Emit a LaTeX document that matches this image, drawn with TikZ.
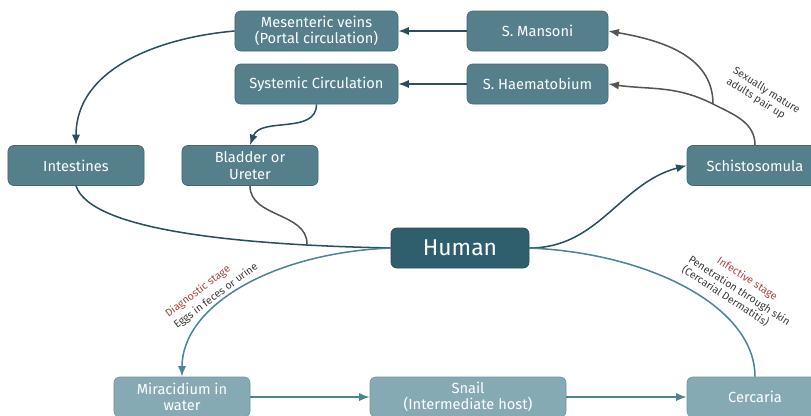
\documentclass[tikz,border=0pt]{standalone}
\usepackage{fontspec}
\setmainfont{Fira Sans}
\usetikzlibrary{positioning, arrows.meta}
\definecolor{boxteal}{HTML}{557F8A}
\definecolor{boxedge}{HTML}{3F6A75}
\definecolor{humanfill}{HTML}{2F5F6C}
\definecolor{lightfill}{HTML}{86AAB4}
\definecolor{lightedge}{HTML}{6E95A0}
\definecolor{linedark}{HTML}{28505C}
\definecolor{linegray}{HTML}{555555}
\definecolor{linelight}{HTML}{4D8494}
\definecolor{redlab}{HTML}{A8443E}
\definecolor{graylab}{HTML}{3A3A3A}
\tikzset{
  box/.style  = {draw=boxedge, fill=boxteal, rounded corners=5pt,
                 text=white, align=center, minimum height=1.2cm,
                 inner sep=2pt, line width=0.6pt,
                 font=\fontsize{12.5}{14}\selectfont},
  lbox/.style = {box, draw=lightedge, fill=lightfill},
  arr/.style  = {-{Latex[length=9pt,width=7pt]}, line width=1.3pt, draw=linedark},
  lab/.style  = {font=\fontsize{9}{10.5}\selectfont, inner sep=1.5pt},
}

\begin{document}
\begin{tikzpicture}[
    x=0.03cm, y=-0.03cm,
    human/.style={box, fill=humanfill, draw=humanfill!80!black,
                  minimum width=4.14cm, font=\fontsize{19.5}{22}\selectfont},
    line/.style={line width=1.3pt, draw=linedark},
    garr/.style={arr, draw=linegray},
    gline/.style={line width=1.3pt, draw=linegray},
    larr/.style={arr, draw=linelight},
    lline/.style={line width=1.3pt, draw=linelight},
    ]
    \useasboundingbox (0,0) rectangle (811,415);

    % top rows
    \node[box, minimum width=4.89cm] (mesent) at (316.5,31) {Mesenteric veins\\(Portal circulation)};
    \node[box, minimum width=4.23cm] (mansoni) at (537.5,31) {S. Mansoni};
    \node[box, minimum width=4.89cm] (systemic) at (316.5,84) {Systemic Circulation};
    \node[box, minimum width=4.23cm] (haema) at (537.5,84) {S. Haematobium};

    % middle row
    \node[box, minimum width=4.08cm] (intest) at (76,165.5) {Intestines};
    \node[box, minimum width=4.08cm] (bladder) at (250,165.5) {Bladder or\\Ureter};
    \node[box, minimum width=4.08cm] (schisto) at (755,165.5) {Schistosomula};
    \node[human] (human) at (460,248) {Human};

    % bottom row
    \node[lbox, minimum width=4.08cm] (mira) at (182,397) {Miracidium in\\water};
    \node[lbox, minimum width=5.88cm] (snail) at (468,397) {Snail\\(Intermediate host)};
    \node[lbox, minimum width=4.08cm] (cerc) at (755,397) {Cercaria};

    \coordinate (join) at (307,244);
    \coordinate (pair) at (713,104);

    \draw[arr] (mansoni.west) -- (mesent.east);
    \draw[arr] (haema.west) -- (systemic.east);
    \draw[arr] (mesent.west) to[out=185,in=90] (intest.north);
    \draw[arr] (systemic.south) to[out=-90,in=70] (bladder.north);
    \draw[line] (intest.south) .. controls +(15,45) and +(-150,-3) .. (human.west);
    \draw[gline] (bladder.south) to[out=-90,in=90] (join);
    \draw[arr] (human.east) to[out=0,in=195] (schisto.west);

    \draw[garr] (schisto.north) to[out=90,in=-27] (pair) to[out=153,in=-8] (haema.east);
    \draw[garr] (pair) to[out=90,in=-10] (mansoni.east);
    \node[lab, text=graylab, rotate=-32, align=left] (pairlab) at (763,96) {Sexually mature\\adults pair up};

    \draw[larr] (human.west) .. controls +(-120,5) and +(0,-70) .. (mira.north);
    \node[lab, text=graylab, rotate=37] (eggs) at (216,296) {Eggs in feces or urine};
    \node[lab, text=redlab, rotate=37, anchor=south west] (diag) at (eggs.north west) {Diagnostic stage};

    \draw[lline] (human.east) .. controls +(120,5) and +(0,-70) .. (cerc.north);
    \node[lab, text=graylab, rotate=-33, align=left] (pen) at (736,296) {Penetration through skin\\(Cercarial Dermatitis)};
    \node[lab, text=redlab, rotate=-33, anchor=south] (infect) at (pen.north) {Infective stage};

    \draw[larr] (mira) -- (snail);
    \draw[larr] (snail) -- (cerc);

\end{tikzpicture}
\end{document}
